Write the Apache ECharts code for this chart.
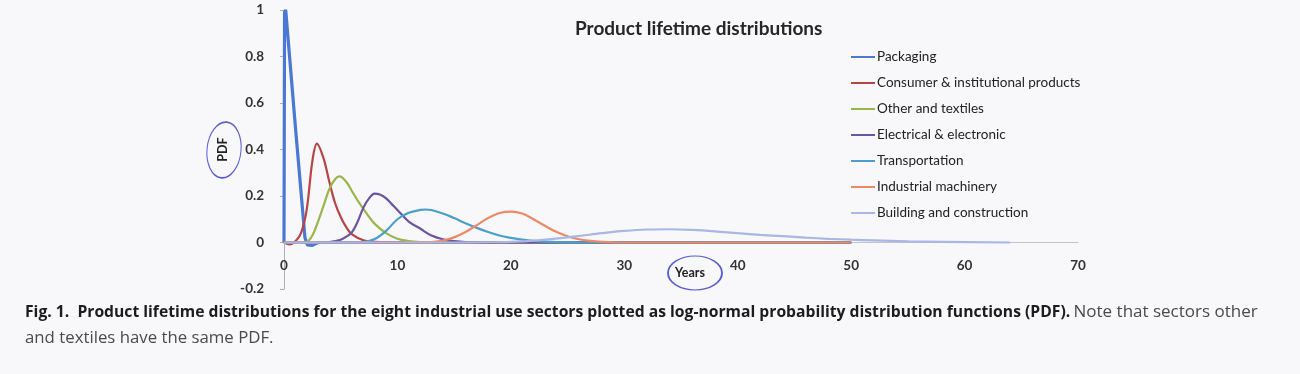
<!DOCTYPE html>
<html>
<head>
<meta charset="utf-8">
<script src="https://cdn.jsdelivr.net/npm/echarts@6/dist/echarts.min.js"></script>
<style>
html,body{margin:0;padding:0;background:#f8f8fa;}
#c{width:1300px;height:374px;}
</style>
</head>
<body>
<div id="c"></div>
<script>
// ---- data: [years, PDF] ----
const seriesNames = [
  'Packaging',
  'Consumer & institutional products',
  'Other and textiles',
  'Electrical & electronic',
  'Transportation',
  'Industrial machinery',
  'Building and construction'
];
const packaging = [[0,0],[0.05,0.99],[0.15,1.0],[1.0,0.5],[1.85,0.02],[2.05,-0.01],[2.5,-0.012],[3,0],[50,0]];
const consumer = [[0,0],[0.5,-0.008],[1,0.005],[1.5,0.04],[2,0.14],[2.5,0.35],[2.9,0.425],[3.5,0.36],[4,0.26],[4.5,0.17],[5,0.11],[5.5,0.065],[6,0.035],[7,0.01],[8,0.003],[10,0],[50,0]];
const other = [[0,0],[1,0],[2,0.003],[2.5,0.03],[3,0.09],[3.5,0.16],[4,0.23],[4.5,0.272],[4.9,0.284],[5.5,0.26],[6,0.22],[6.5,0.18],[7,0.145],[7.5,0.11],[8,0.08],[9,0.04],[10,0.016],[11,0.006],[12,0.002],[14,0],[50,0]];
const electrical = [[0,0],[3,0],[4,0.002],[5,0.012],[5.5,0.025],[6,0.045],[6.5,0.09],[7,0.15],[7.5,0.19],[8,0.21],[8.5,0.205],[9,0.19],[9.5,0.165],[10,0.14],[11,0.09],[12,0.06],[13,0.03],[14,0.014],[15,0.006],[16,0.002],[18,0],[50,0]];
const transportation = [[0,0],[6,0],[7,0.002],[8,0.015],[9,0.05],[10,0.1],[11,0.128],[12,0.14],[12.5,0.142],[13,0.14],[14,0.125],[15,0.105],[16,0.083],[17,0.063],[18,0.045],[19,0.03],[20,0.02],[21,0.012],[22,0.007],[24,0.002],[26,0],[50,0]];
const industrial = [[0,0],[12,0],[13,0.002],[14,0.008],[15,0.022],[16,0.045],[17,0.075],[18,0.105],[19,0.127],[20,0.133],[21,0.125],[22,0.1],[23,0.072],[24,0.046],[25,0.027],[26,0.014],[27,0.007],[28,0.003],[30,0],[50,0]];
const building = [[0,0],[15,0],[18,0.001],[20,0.003],[22,0.008],[24,0.017],[26,0.028],[28,0.04],[30,0.05],[32,0.056],[34,0.057],[36,0.054],[38,0.048],[40,0.04],[42,0.033],[44,0.027],[46,0.021],[48,0.016],[50,0.012],[52,0.009],[55,0.005],[58,0.003],[64,0]];
const seriesData = [packaging, consumer, other, electrical, transportation, industrial, building];
const seriesColors = ['#4a78d4','#b84444','#9ab64a','#6c54a4','#4b9fcc','#ec8a68','#a9b6e6'];
const seriesWidths = [3.2,2.2,2.2,2.2,2.2,2.2,2.2];
const yTicks = {min:-0.2, max:1, interval:0.2};
const xTicks = {min:0, max:70, interval:10};

const chart = echarts.init(document.getElementById('c'), null, {renderer:'canvas'});
const series = seriesData.map((d,i)=>({
  name: seriesNames[i],
  type: 'line',
  data: d,
  smooth: i===0 ? false : 0.35,
  symbol: 'none',
  z: 2 + i,
  lineStyle: {color: seriesColors[i], width: seriesWidths[i]},
  itemStyle: {color: seriesColors[i]}
}));
chart.setOption({
  backgroundColor: '#f8f8fa',
  animation: false,
  title: {
    text: 'Product lifetime distributions',
    left: 570, top: 14,
    textStyle: {fontFamily:'Lato', fontWeight:'bold', fontSize:19, color:'#262626'}
  },
  legend: {
    orient: 'vertical',
    left: 846, top: 44,
    icon: 'rect',
    itemWidth: 24, itemHeight: 2,
    itemGap: 10,
    data: seriesNames,
    textStyle: {fontFamily:'Lato', fontSize:13.5, color:'#222', lineHeight:16, padding:[0,0,0,-3]}
  },
  grid: {left: 284, right: 222, top: 10, bottom: 85, containLabel: false},
  xAxis: {
    type: 'value',
    min: xTicks.min, max: xTicks.max, interval: xTicks.interval,
    name: 'Years', nameLocation: 'middle', nameGap: -23, nameMoveOverlap: false,
    nameTextStyle: {fontFamily:'Lato', fontWeight:'bold', fontSize:12.5, color:'#222', padding:[0,0,0,18]},
    axisLine: {onZero: true, lineStyle: {color:'#c4c4c8', width:1}},
    axisTick: {show: false},
    axisLabel: {margin: -30, fontFamily:'Lato', fontWeight:'bold', fontSize:13.5, color:'#333'},
    splitLine: {show: false}
  },
  yAxis: {
    type: 'value',
    min: yTicks.min, max: yTicks.max, interval: yTicks.interval,
    name: 'PDF', nameLocation: 'middle', nameGap: 52, nameRotate: 90,
    nameTextStyle: {fontFamily:'Lato', fontWeight:'bold', fontSize:12.5, color:'#222'},
    axisLine: {show: true, onZero: false, lineStyle: {color:'#b0b0b4', width:1}},
    axisTick: {show: true, length: 4, lineStyle:{color:'#b0b0b4'}},
    axisLabel: {margin: 20, fontFamily:'Lato', fontWeight:'bold', fontSize:13.5, color:'#333',
      formatter: v => String(Math.round(v*10)/10)},
    splitLine: {show: false}
  },
  series: series,
  graphic: [
    {type:'circle', shape:{cx:0, cy:0, r:20}, x:224, y:150, scaleX:0.85, scaleY:1.4, rotation:-0.1,
     style:{fill:'none', stroke:'#5a5cd8', lineWidth:1.2}, z:100},
    {type:'circle', shape:{cx:0, cy:0, r:20}, x:695, y:273, scaleX:1.35, scaleY:0.85,
     style:{fill:'none', stroke:'#5a5cd8', lineWidth:1.4}, z:100},
    {type:'text', left: 25, top: 304, z:100,
     style:{
       text:'{b|Fig. 1.  Product lifetime distributions for the eight industrial use sectors plotted as log-normal probability distribution functions (PDF).} {n|Note that sectors other}',
       rich:{
         b:{fontFamily:'Open Sans', fontWeight:'bold', fontSize:15.7, fill:'#1c1c1c'},
         n:{fontFamily:'Open Sans', fontSize:17, fill:'#4a4a4a'}
       }
     }},
    {type:'text', left: 25, top: 330, z:100,
     style:{text:'and textiles have the same PDF.', fontFamily:'Open Sans', fontSize:16.8, fill:'#4a4a4a'}}
  ]
});
</script>
</body>
</html>
